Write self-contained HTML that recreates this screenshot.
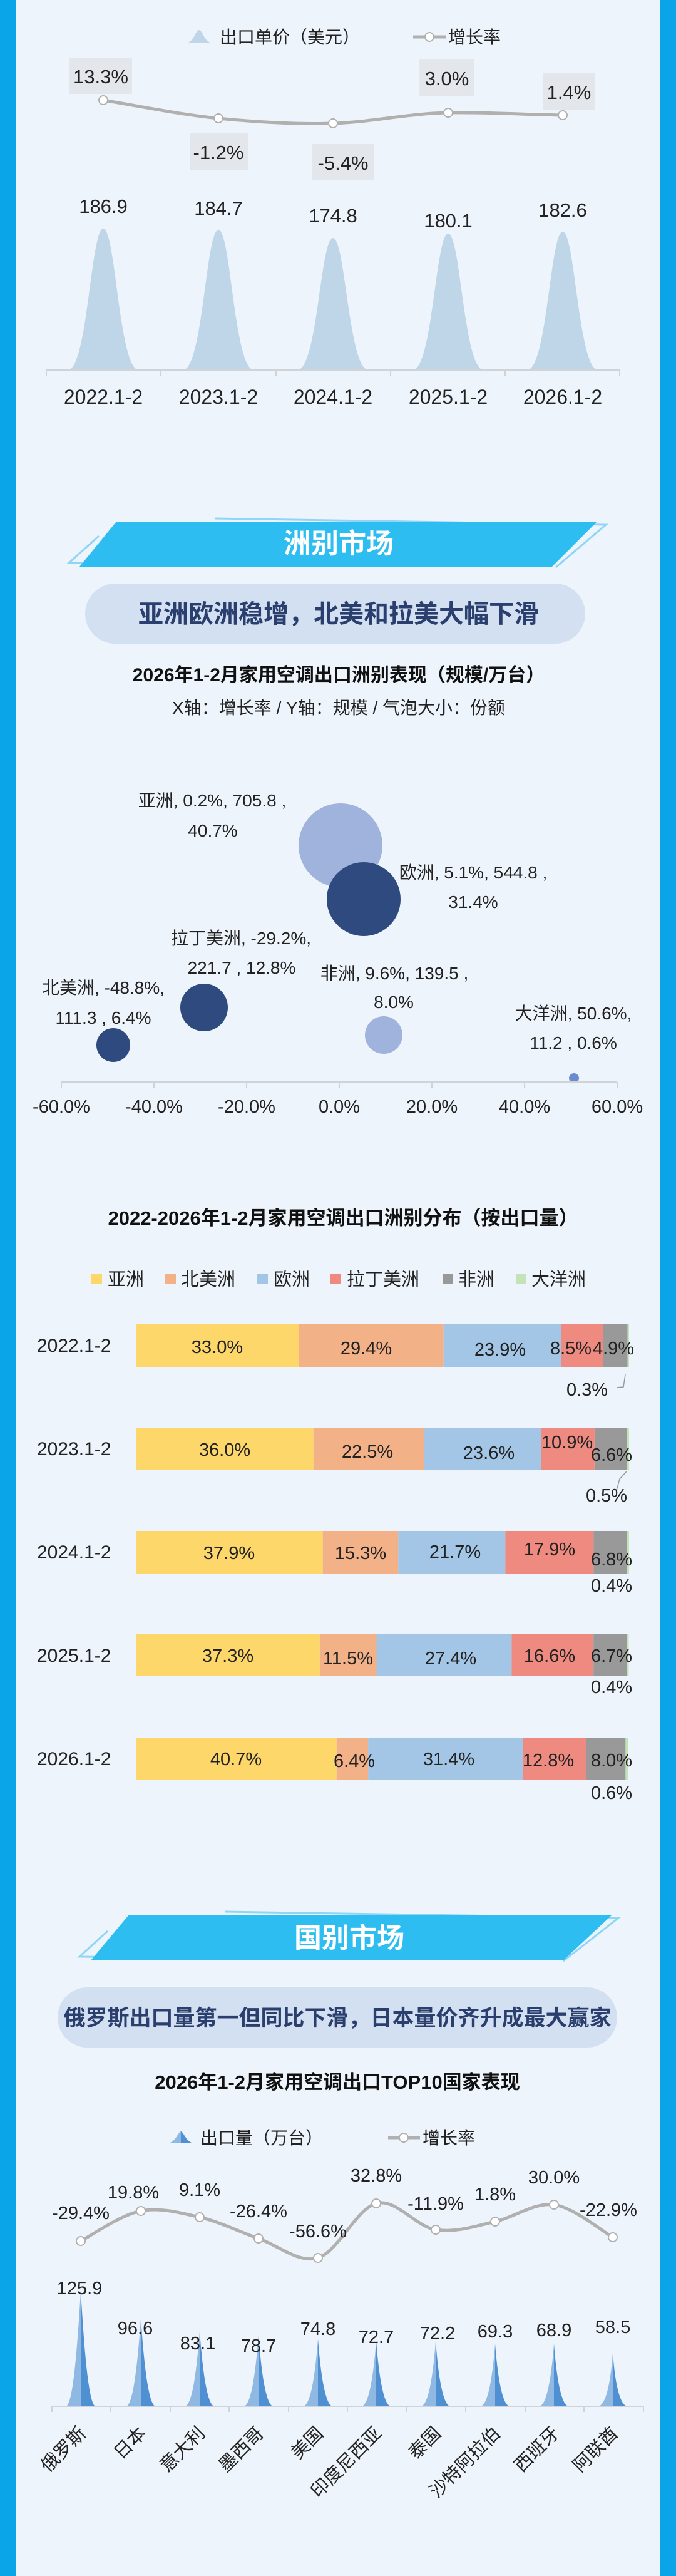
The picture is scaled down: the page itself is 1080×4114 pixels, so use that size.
<!DOCTYPE html>
<html><head><meta charset="utf-8"><style>
html,body{margin:0;padding:0;}
body{width:1080px;height:4114px;background:#eef4fb;overflow:hidden;}
svg{display:block;font-family:"Liberation Sans","Noto Sans CJK SC",sans-serif;}
</style></head><body>
<svg width="1080" height="4114" viewBox="0 0 1080 4114" xmlns="http://www.w3.org/2000/svg">
<rect width="1080" height="4114" fill="#eef4fb"/>
<rect x="0" y="0" width="25" height="4114" fill="#0aa5e9"/>
<rect x="1055" y="0" width="25" height="4114" fill="#0aa5e9"/>

<!-- ===== Chart 1 ===== -->
<g font-size="28" fill="#222">
<path d="M296,69 C310,69 312,48 318,48 C324,48 326,69 341,69 Z" fill="#bfd6e8"/>
<text x="351" y="69">出口单价（美元）</text>
<line x1="660" y1="59" x2="713" y2="59" stroke="#b0b0b0" stroke-width="5"/>
<circle cx="686" cy="59" r="7" fill="#fff" stroke="#b0b0b0" stroke-width="2"/>
<text x="716" y="69">增长率</text>
</g>
<g fill="#e3e6ea">
<rect x="110" y="92" width="101" height="58"/>
<rect x="303" y="213" width="93" height="59"/>
<rect x="499" y="230" width="98" height="58"/>
<rect x="670" y="95" width="88" height="58"/>
<rect x="868" y="116" width="82" height="60"/>
</g>
<path d="M165,160 C226,170 288,183 349,189 C410,195 471,199 532,197 C593,195 655,181 716,180 C777,179 838,183 899,184" fill="none" stroke="#b0b0b0" stroke-width="5"/>
<g fill="#fff" stroke="#b0b0b0" stroke-width="2">
<circle cx="165" cy="160" r="7"/><circle cx="349" cy="189" r="7"/><circle cx="532" cy="197" r="7"/><circle cx="716" cy="180" r="7"/><circle cx="899" cy="184" r="7"/>
</g>
<g font-size="31" fill="#222" text-anchor="middle">
<text x="161" y="133">13.3%</text>
<text x="349" y="254">-1.2%</text>
<text x="548" y="271">-5.4%</text>
<text x="714" y="136">3.0%</text>
<text x="909" y="158">1.4%</text>
<text x="165" y="340">186.9</text>
<text x="349" y="343">184.7</text>
<text x="532" y="355">174.8</text>
<text x="716" y="363">180.1</text>
<text x="899" y="346">182.6</text>
</g>
<g fill="#bfd6e8">
<path d="M108,591 C140,591 145,365 165,365 C185,365 190,591 222,591 Z"/>
<path d="M292,591 C324,591 329,367 349,367 C369,367 374,591 406,591 Z"/>
<path d="M475,591 C507,591 512,380 532,380 C552,380 557,591 589,591 Z"/>
<path d="M659,591 C691,591 696,373 716,373 C736,373 741,591 773,591 Z"/>
<path d="M842,591 C874,591 879,370 899,370 C919,370 924,591 956,591 Z"/>
</g>
<g stroke="#d0d4d8" stroke-width="2">
<line x1="74" y1="591" x2="990" y2="591"/>
<line x1="74" y1="591" x2="74" y2="600"/><line x1="257" y1="591" x2="257" y2="600"/><line x1="441" y1="591" x2="441" y2="600"/><line x1="624" y1="591" x2="624" y2="600"/><line x1="807" y1="591" x2="807" y2="600"/><line x1="990" y1="591" x2="990" y2="600"/>
</g>
<g font-size="32" fill="#222" text-anchor="middle">
<text x="165" y="645">2022.1-2</text><text x="349" y="645">2023.1-2</text><text x="532" y="645">2024.1-2</text><text x="716" y="645">2025.1-2</text><text x="899" y="645">2026.1-2</text>
</g>

<!-- ===== Banner 1 ===== -->
<polyline points="344,828 968,838 888,906" fill="none" stroke="#8fd6f5" stroke-width="3"/>
<polyline points="158,856 110,899 300,901" fill="none" stroke="#8fd6f5" stroke-width="3"/>
<polygon points="186,833 954,833 882,905 127,905" fill="#2dbdf0"/>
<text x="541" y="883" font-size="44" font-weight="bold" fill="#fff" text-anchor="middle">洲别市场</text>
<rect x="136" y="932" width="799" height="96" rx="48" fill="#d3e0f2"/>
<text x="541" y="994" font-size="40" font-weight="bold" fill="#2b3f6e" text-anchor="middle">亚洲欧洲稳增，北美和拉美大幅下滑</text>
<text x="541" y="1088" font-size="30" font-weight="bold" fill="#111" text-anchor="middle">2026年1-2月家用空调出口洲别表现（规模/万台）</text>
<text x="541" y="1140" font-size="28" fill="#222" text-anchor="middle">X轴：增长率 / Y轴：规模 / 气泡大小：份额</text>

<!-- Bubble chart -->
<g>
<circle cx="544" cy="1350" r="67" fill="#9fb3dc"/>
<circle cx="581" cy="1436" r="59" fill="#2e4a7e"/>
<circle cx="326" cy="1609" r="38" fill="#2e4a7e"/>
<circle cx="181" cy="1669" r="27" fill="#2e4a7e"/>
<circle cx="613" cy="1653" r="30" fill="#9fb3dc"/>
<circle cx="917" cy="1722" r="8" fill="#6a8ccf"/>
</g>
<g stroke="#d0d4d8" stroke-width="2">
<line x1="98" y1="1728" x2="986" y2="1728"/>
<line x1="98" y1="1728" x2="98" y2="1737"/><line x1="246" y1="1728" x2="246" y2="1737"/><line x1="394" y1="1728" x2="394" y2="1737"/><line x1="542" y1="1728" x2="542" y2="1737"/><line x1="690" y1="1728" x2="690" y2="1737"/><line x1="838" y1="1728" x2="838" y2="1737"/><line x1="986" y1="1728" x2="986" y2="1737"/>
</g>
<g font-size="29" fill="#222" text-anchor="middle">
<text x="98" y="1777">-60.0%</text><text x="246" y="1777">-40.0%</text><text x="394" y="1777">-20.0%</text><text x="542" y="1777">0.0%</text><text x="690" y="1777">20.0%</text><text x="838" y="1777">40.0%</text><text x="986" y="1777">60.0%</text>
</g>
<g font-size="28" fill="#222" text-anchor="middle">
<text x="339" y="1288">亚洲, 0.2%, 705.8 ,</text><text x="340" y="1336">40.7%</text>
<text x="756" y="1403">欧洲, 5.1%, 544.8 ,</text><text x="756" y="1450">31.4%</text>
<text x="385" y="1508">拉丁美洲, -29.2%,</text><text x="386" y="1555">221.7 , 12.8%</text>
<text x="630" y="1564">非洲, 9.6%, 139.5 ,</text><text x="629" y="1610">8.0%</text>
<text x="165" y="1587">北美洲, -48.8%,</text><text x="165" y="1635">111.3 , 6.4%</text>
<text x="916" y="1628">大洋洲, 50.6%,</text><text x="916" y="1675">11.2 , 0.6%</text>
</g>

<!-- ===== Stacked bars ===== -->
<text x="548" y="1956" font-size="31" font-weight="bold" fill="#111" text-anchor="middle">2022-2026年1-2月家用空调出口洲别分布（按出口量）</text>
<g font-size="29" fill="#222">
<rect x="146" y="2034" width="17" height="17" fill="#fdd76a"/><text x="172" y="2053">亚洲</text>
<rect x="264" y="2034" width="17" height="17" fill="#f3b187"/><text x="289" y="2053">北美洲</text>
<rect x="411" y="2034" width="17" height="17" fill="#a3c6e6"/><text x="437" y="2053">欧洲</text>
<rect x="528" y="2034" width="17" height="17" fill="#ee8a80"/><text x="554" y="2053">拉丁美洲</text>
<rect x="707" y="2034" width="17" height="17" fill="#999999"/><text x="732" y="2053">非洲</text>
<rect x="824" y="2034" width="17" height="17" fill="#c5e3b8"/><text x="849" y="2053">大洋洲</text>
</g>
<g font-size="30" fill="#222">
<text x="59" y="2159">2022.1-2</text>
<text x="59" y="2324">2023.1-2</text>
<text x="59" y="2489">2024.1-2</text>
<text x="59" y="2654">2025.1-2</text>
<text x="59" y="2819">2026.1-2</text>
</g>
<g>
<rect x="217" y="2115" width="260" height="68" fill="#fdd76a"/>
<rect x="477" y="2115" width="231.7" height="68" fill="#f3b187"/>
<rect x="708.7" y="2115" width="188.3" height="68" fill="#a3c6e6"/>
<rect x="897" y="2115" width="67" height="68" fill="#ee8a80"/>
<rect x="964" y="2115" width="38.6" height="68" fill="#999"/>
<rect x="1002.6" y="2115" width="2.4" height="68" fill="#c5e3b8"/>
</g>
<g>
<rect x="217" y="2280" width="283.7" height="68" fill="#fdd76a"/>
<rect x="500.7" y="2280" width="177.3" height="68" fill="#f3b187"/>
<rect x="678" y="2280" width="186" height="68" fill="#a3c6e6"/>
<rect x="864" y="2280" width="85.9" height="68" fill="#ee8a80"/>
<rect x="949.9" y="2280" width="52" height="68" fill="#999"/>
<rect x="1001.9" y="2280" width="3.1" height="68" fill="#c5e3b8"/>
</g>
<g>
<rect x="217" y="2445" width="298.7" height="68" fill="#fdd76a"/>
<rect x="515.7" y="2445" width="120.6" height="68" fill="#f3b187"/>
<rect x="636.3" y="2445" width="171" height="68" fill="#a3c6e6"/>
<rect x="807.3" y="2445" width="141.1" height="68" fill="#ee8a80"/>
<rect x="948.4" y="2445" width="53.6" height="68" fill="#999"/>
<rect x="1002" y="2445" width="3" height="68" fill="#c5e3b8"/>
</g>
<g>
<rect x="217" y="2609" width="293.9" height="68" fill="#fdd76a"/>
<rect x="510.9" y="2609" width="90.6" height="68" fill="#f3b187"/>
<rect x="601.5" y="2609" width="215.9" height="68" fill="#a3c6e6"/>
<rect x="817.4" y="2609" width="130.8" height="68" fill="#ee8a80"/>
<rect x="948.2" y="2609" width="52.8" height="68" fill="#999"/>
<rect x="1001" y="2609" width="3.5" height="68" fill="#c5e3b8"/>
</g>
<g>
<rect x="217" y="2775" width="320.7" height="68" fill="#fdd76a"/>
<rect x="537.7" y="2775" width="50.4" height="68" fill="#f3b187"/>
<rect x="588.1" y="2775" width="247.4" height="68" fill="#a3c6e6"/>
<rect x="835.5" y="2775" width="100.9" height="68" fill="#ee8a80"/>
<rect x="936.4" y="2775" width="63" height="68" fill="#999"/>
<rect x="999.4" y="2775" width="4.6" height="68" fill="#c5e3b8"/>
</g>
<polyline points="999,2195 996,2215 985,2216" fill="none" stroke="#999" stroke-width="1.5"/>
<polyline points="1001,2350 990,2362 985,2380" fill="none" stroke="#999" stroke-width="1.5"/>
<g font-size="29" fill="#222" text-anchor="middle">
<text x="347" y="2161">33.0%</text><text x="585" y="2163">29.4%</text><text x="799" y="2165">23.9%</text><text x="912" y="2163">8.5%</text><text x="980" y="2163">4.9%</text><text x="938" y="2229">0.3%</text>
<text x="359" y="2325">36.0%</text><text x="587" y="2328">22.5%</text><text x="781" y="2330">23.6%</text><text x="906" y="2313">10.9%</text><text x="977" y="2333">6.6%</text><text x="969" y="2398">0.5%</text>
<text x="366" y="2490">37.9%</text><text x="576" y="2490">15.3%</text><text x="727" y="2488">21.7%</text><text x="878" y="2484">17.9%</text><text x="977" y="2500">6.8%</text><text x="977" y="2542">0.4%</text>
<text x="364" y="2654">37.3%</text><text x="556" y="2658">11.5%</text><text x="720" y="2658">27.4%</text><text x="878" y="2654">16.6%</text><text x="977" y="2654">6.7%</text><text x="977" y="2704">0.4%</text>
<text x="377" y="2819">40.7%</text><text x="566" y="2822">6.4%</text><text x="717" y="2819">31.4%</text><text x="876" y="2821">12.8%</text><text x="977" y="2821">8.0%</text><text x="977" y="2873">0.6%</text>
</g>

<!-- ===== Banner 2 ===== -->
<polyline points="360,3053 988,3063 900,3132" fill="none" stroke="#8fd6f5" stroke-width="3"/>
<polyline points="172,3084 127,3125 320,3127" fill="none" stroke="#8fd6f5" stroke-width="3"/>
<polygon points="206,3058 978,3058 900,3131 145,3131" fill="#2dbdf0"/>
<text x="558" y="3110" font-size="44" font-weight="bold" fill="#fff" text-anchor="middle">国别市场</text>
<rect x="92" y="3174" width="894" height="96" rx="48" fill="#d3e0f2"/>
<text x="539" y="3235" font-size="35" font-weight="bold" fill="#2b3f6e" text-anchor="middle">俄罗斯出口量第一但同比下滑，日本量价齐升成最大赢家</text>
<text x="539" y="3336" font-size="31" font-weight="bold" fill="#111" text-anchor="middle">2026年1-2月家用空调出口TOP10国家表现</text>
<g font-size="28" fill="#222">
<path d="M267,3423 C280,3423 285,3404 289,3404 L289,3423 Z" fill="#8fb8e3"/>
<path d="M311,3423 C298,3423 293,3404 289,3404 L289,3423 Z" fill="#4f90d3"/>
<text x="320" y="3424">出口量（万台）</text>
<line x1="620" y1="3414" x2="671" y2="3414" stroke="#b0b0b0" stroke-width="5"/>
<circle cx="645" cy="3414" r="7" fill="#fff" stroke="#b0b0b0" stroke-width="2"/>
<text x="675" y="3424">增长率</text>
</g>
<path d="M129,3579 C145,3571 193,3537 225,3531 C257,3525 288,3534 319,3541 C350,3548 382,3564 413,3575 C445,3586 477,3615 508,3606 C539,3597 570,3527 601,3519 C632,3510 664,3556 696,3561 C728,3566 760,3555 791,3548 C822,3541 854,3517 885,3521 C916,3525 963,3564 979,3573" fill="none" stroke="#b0b0b0" stroke-width="5"/>
<g fill="#fff" stroke="#b0b0b0" stroke-width="2">
<circle cx="129" cy="3579" r="7"/><circle cx="225" cy="3531" r="7"/><circle cx="319" cy="3541" r="7"/><circle cx="413" cy="3575" r="7"/><circle cx="508" cy="3606" r="7"/><circle cx="601" cy="3519" r="7"/><circle cx="696" cy="3561" r="7"/><circle cx="791" cy="3548" r="7"/><circle cx="885" cy="3521" r="7"/><circle cx="979" cy="3573" r="7"/>
</g>
<g font-size="29" fill="#222" text-anchor="middle">
<text x="129" y="3544">-29.4%</text><text x="213" y="3511">19.8%</text><text x="319" y="3507">9.1%</text><text x="413" y="3541">-26.4%</text><text x="508" y="3573">-56.6%</text><text x="601" y="3484">32.8%</text><text x="696" y="3529">-11.9%</text><text x="791" y="3514">1.8%</text><text x="885" y="3487">30.0%</text><text x="972" y="3539">-22.9%</text>
</g>
<g>
<path d="M105,3843 C119,3843 126,3701 129,3661 L129,3843 Z" fill="#8fb8e3"/><path d="M153,3843 C139,3843 132,3701 129,3661 L129,3843 Z" fill="#4f90d3"/>
<path d="M201,3843 C215,3843 222,3743 225,3703 L225,3843 Z" fill="#8fb8e3"/><path d="M249,3843 C235,3843 228,3743 225,3703 L225,3843 Z" fill="#4f90d3"/>
<path d="M295,3843 C309,3843 316,3763 319,3723 L319,3843 Z" fill="#8fb8e3"/><path d="M343,3843 C329,3843 322,3763 319,3723 L319,3843 Z" fill="#4f90d3"/>
<path d="M389,3843 C403,3843 410,3769 413,3729 L413,3843 Z" fill="#8fb8e3"/><path d="M437,3843 C423,3843 416,3769 413,3729 L413,3843 Z" fill="#4f90d3"/>
<path d="M484,3843 C498,3843 505,3775 508,3735 L508,3843 Z" fill="#8fb8e3"/><path d="M532,3843 C518,3843 511,3775 508,3735 L508,3843 Z" fill="#4f90d3"/>
<path d="M577,3843 C591,3843 598,3778 601,3738 L601,3843 Z" fill="#8fb8e3"/><path d="M625,3843 C611,3843 604,3778 601,3738 L601,3843 Z" fill="#4f90d3"/>
<path d="M672,3843 C686,3843 693,3779 696,3739 L696,3843 Z" fill="#8fb8e3"/><path d="M720,3843 C706,3843 699,3779 696,3739 L696,3843 Z" fill="#4f90d3"/>
<path d="M767,3843 C781,3843 788,3783 791,3743 L791,3843 Z" fill="#8fb8e3"/><path d="M815,3843 C801,3843 794,3783 791,3743 L791,3843 Z" fill="#4f90d3"/>
<path d="M861,3843 C875,3843 882,3783 885,3743 L885,3843 Z" fill="#8fb8e3"/><path d="M909,3843 C895,3843 888,3783 885,3743 L885,3843 Z" fill="#4f90d3"/>
<path d="M955,3843 C969,3843 976,3798 979,3758 L979,3843 Z" fill="#8fb8e3"/><path d="M1003,3843 C989,3843 982,3798 979,3758 L979,3843 Z" fill="#4f90d3"/>
</g>
<g font-size="29" fill="#222" text-anchor="middle">
<text x="127" y="3664">125.9</text><text x="216" y="3728">96.6</text><text x="316" y="3752">83.1</text><text x="413" y="3756">78.7</text><text x="508" y="3729">74.8</text><text x="601" y="3742">72.7</text><text x="699" y="3736">72.2</text><text x="791" y="3733">69.3</text><text x="885" y="3731">68.9</text><text x="979" y="3726">58.5</text>
</g>
<g stroke="#d0d4d8" stroke-width="2">
<line x1="83" y1="3843" x2="1028" y2="3843"/>
<line x1="83" y1="3843" x2="83" y2="3852"/><line x1="177" y1="3843" x2="177" y2="3852"/><line x1="272" y1="3843" x2="272" y2="3852"/><line x1="366" y1="3843" x2="366" y2="3852"/><line x1="461" y1="3843" x2="461" y2="3852"/><line x1="555" y1="3843" x2="555" y2="3852"/><line x1="650" y1="3843" x2="650" y2="3852"/><line x1="744" y1="3843" x2="744" y2="3852"/><line x1="839" y1="3843" x2="839" y2="3852"/><line x1="933" y1="3843" x2="933" y2="3852"/><line x1="1028" y1="3843" x2="1028" y2="3852"/>
</g>
<g font-size="29" fill="#222" text-anchor="end">
<text transform="translate(139,3888) rotate(-45)">俄罗斯</text>
<text transform="translate(235,3888) rotate(-45)">日本</text>
<text transform="translate(329,3888) rotate(-45)">意大利</text>
<text transform="translate(423,3888) rotate(-45)">墨西哥</text>
<text transform="translate(518,3888) rotate(-45)">美国</text>
<text transform="translate(611,3888) rotate(-45)">印度尼西亚</text>
<text transform="translate(706,3888) rotate(-45)">泰国</text>
<text transform="translate(801,3888) rotate(-45)">沙特阿拉伯</text>
<text transform="translate(895,3888) rotate(-45)">西班牙</text>
<text transform="translate(989,3888) rotate(-45)">阿联酋</text>
</g>
</svg>
</body></html>
